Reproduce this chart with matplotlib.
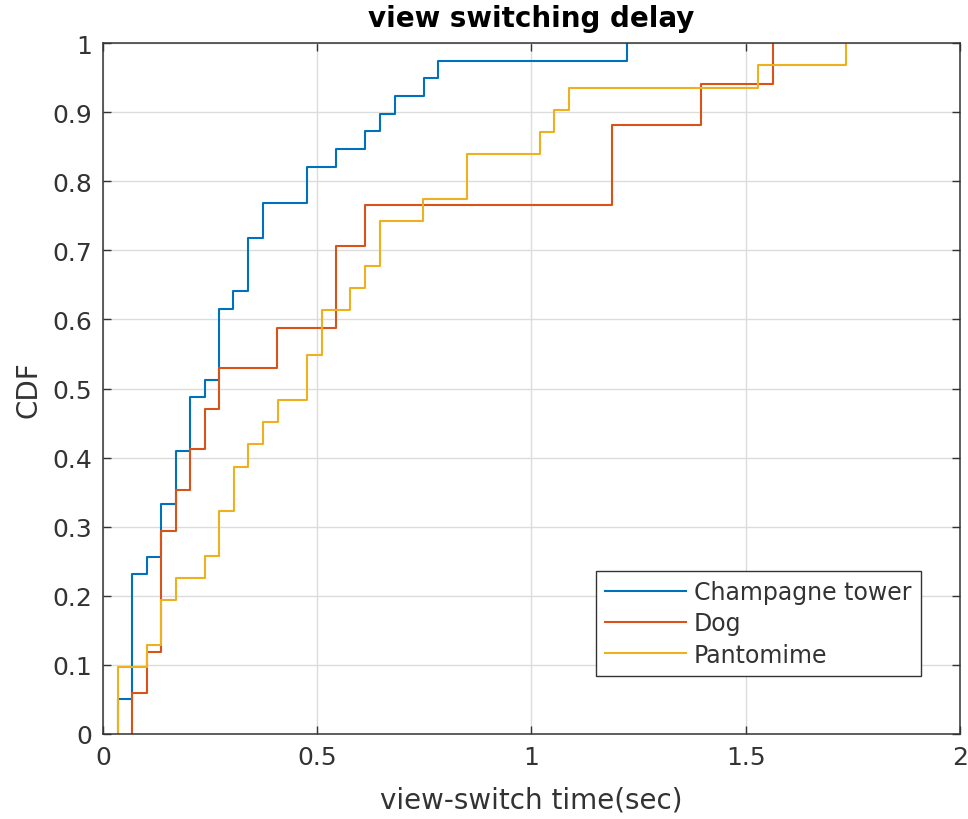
import numpy as np
import matplotlib.pyplot as plt

# step positions (sec) and CDF level after each step
champ_x = [0.035, 0.067, 0.102, 0.135, 0.170, 0.203, 0.238, 0.271, 0.304, 0.339,
           0.374, 0.475, 0.543, 0.611, 0.646, 0.681, 0.749, 0.783, 1.224]
champ_y = [0.051, 0.231, 0.256, 0.333, 0.410, 0.487, 0.513, 0.615, 0.641, 0.718,
           0.769, 0.821, 0.846, 0.872, 0.897, 0.923, 0.949, 0.974, 1.0]

dog_x = [0.067, 0.102, 0.135, 0.170, 0.203, 0.238, 0.271, 0.407, 0.543, 0.611,
         1.189, 1.395, 1.563]
dog_y = [0.059, 0.118, 0.294, 0.353, 0.412, 0.471, 0.529, 0.588, 0.706, 0.765,
         0.882, 0.941, 1.0]

panto_x = [0.036, 0.102, 0.135, 0.170, 0.238, 0.271, 0.306, 0.339, 0.374, 0.409,
           0.475, 0.510, 0.576, 0.611, 0.646, 0.747, 0.849, 1.020, 1.052, 1.088,
           1.529, 1.734]
panto_y = [0.097, 0.129, 0.194, 0.226, 0.258, 0.323, 0.387, 0.419, 0.452, 0.484,
           0.548, 0.613, 0.645, 0.677, 0.742, 0.774, 0.839, 0.871, 0.903, 0.935,
           0.968, 1.0]

labels = ["Champagne tower", "Dog", "Pantomime"]
colors = ["#0072BD", "#D95319", "#EDB120"]

fig = plt.figure(figsize=(9.68, 8.2), dpi=100)
ax = fig.add_axes([0.1064, 0.1037, 0.8853, 0.8426])

for xs, ys, lab, c in zip([champ_x, dog_x, panto_x], [champ_y, dog_y, panto_y], labels, colors):
    xx = [xs[0]] + xs
    yy = [0.0] + ys
    ax.plot(xx, yy, drawstyle="steps-post", color=c, lw=1.5, label=lab)

ax.set_xlim(0, 2)
ax.set_ylim(0, 1)
ax.set_xticks([0, 0.5, 1, 1.5, 2])
ax.set_xticklabels(["0", "0.5", "1", "1.5", "2"])
ax.set_yticks(np.arange(0, 1.01, 0.1))
ax.set_yticklabels(["0"] + ["%.1f" % v for v in np.arange(0.1, 0.95, 0.1)] + ["1"])
ax.grid(True, color="#dcdcdc", lw=1)
ax.set_axisbelow(True)
ax.tick_params(direction="in", top=True, right=True, length=6, width=1,
               labelsize=18, colors="#333333", pad=8)
for s in ax.spines.values():
    s.set_color("#333333")
    s.set_linewidth(1.1)

ax.set_xlabel("view-switch time(sec)", fontsize=20, color="#333333", labelpad=12)
ax.set_ylabel("CDF", fontsize=20, color="#333333", labelpad=7)
ax.set_title("view switching delay", fontsize=20, fontweight="bold", pad=12)

leg = ax.legend(loc="lower right", bbox_to_anchor=(0.9545, 0.0839), borderaxespad=0,
                fontsize=17, handlelength=3.4, handletextpad=0.35, labelspacing=0.3,
                borderpad=0.4, fancybox=False, framealpha=1)
leg.get_frame().set_edgecolor("#333333")
leg.get_frame().set_linewidth(1)
for t in leg.get_texts():
    t.set_color("#333333")

fig.savefig("out.png", dpi=100)
